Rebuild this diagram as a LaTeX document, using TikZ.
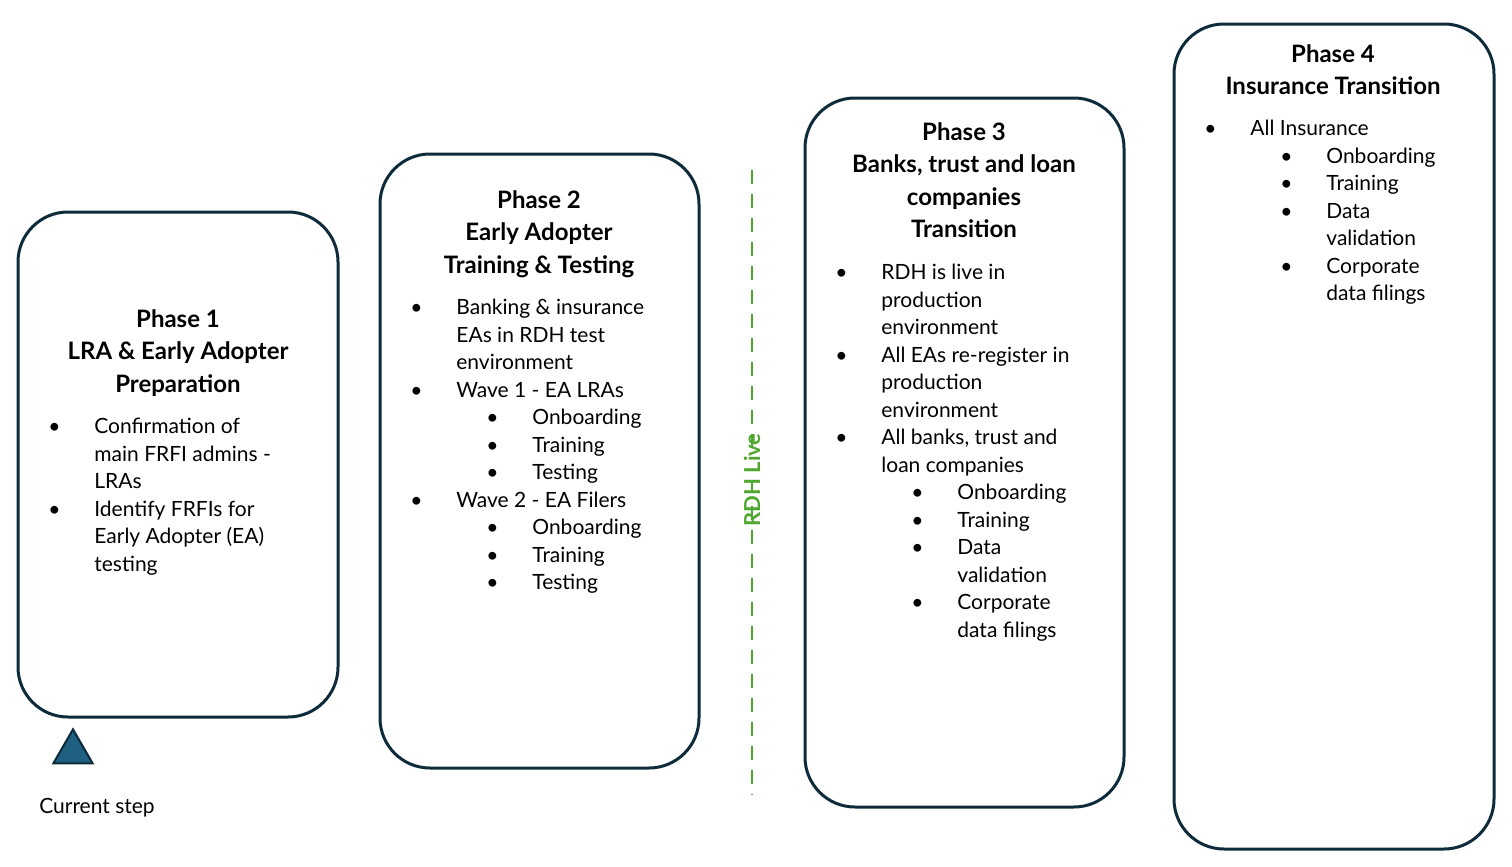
\documentclass[tikz,border=0pt]{standalone}
\usepackage{fontspec}
\setmainfont{Lato}
\usepackage{xcolor}
\usetikzlibrary{positioning,shapes.geometric}
\definecolor{navy}{HTML}{0D2B3A}
\definecolor{rdhgreen}{HTML}{4EA72E}
\definecolor{tri}{HTML}{1F5F80}
\newcommand{\itm}[1]{\makebox[23pt][l]{\textbullet}#1}
\newcommand{\cnt}[1]{\hspace{23pt}#1}
\newcommand{\subitm}[1]{\hspace{38pt}\makebox[23pt][l]{\textbullet}#1}
\newcommand{\subcnt}[1]{\hspace{61pt}#1}
\begin{document}
\begin{tikzpicture}[x=0.5pt,y=-0.5pt,
    phase/.style={draw=navy,line width=1.5pt,rounded corners=25pt},
    title/.style={align=center,font={\fontsize{12}{16.25}\selectfont\bfseries},inner sep=0pt,anchor=north},
    body/.style={align=left,font={\fontsize{10.5}{13.75}\selectfont},inner sep=0pt,anchor=north west}]
        \useasboundingbox (0,0) rectangle (1512,867);
        % Draw phase boxes
        \draw[phase] (18,212) rectangle (338,717);
        \draw[phase] (380,154) rectangle (699,768);
        \draw[phase] (805,98) rectangle (1124,807);
        \draw[phase] (1174,24) rectangle (1494,849);
        % Phase 1
        \node[title] (p1title) at (178,309) {Phase 1\\LRA \& Early Adopter\\Preparation};
        \node[body] (p1body) at (48,418) {\itm{Confirmation of}\\\cnt{main FRFI admins -}\\\cnt{LRAs}\\
            \itm{Identify FRFIs for}\\\cnt{Early Adopter (EA)}\\\cnt{testing}};
        % Phase 2
        \node[title] (p2title) at (539,190) {Phase 2\\Early Adopter\\Training \& Testing};
        \node[body] (p2body) at (410,299) {\itm{Banking \& insurance}\\\cnt{EAs in RDH test}\\\cnt{environment}\\
            \itm{Wave 1 - EA LRAs}\\\subitm{Onboarding}\\\subitm{Training}\\\subitm{Testing}\\
            \itm{Wave 2 - EA Filers}\\\subitm{Onboarding}\\\subitm{Training}\\\subitm{Testing}};
        % Phase 3
        \node[title] (p3title) at (964,122) {Phase 3\\Banks, trust and loan\\companies\\Transition};
        \node[body] (p3body) at (835,264) {\itm{RDH is live in}\\\cnt{production}\\\cnt{environment}\\
            \itm{All EAs re-register in}\\\cnt{production}\\\cnt{environment}\\
            \itm{All banks, trust and}\\\cnt{loan companies}\\\subitm{Onboarding}\\\subitm{Training}\\
            \subitm{Data}\\\subcnt{validation}\\\subitm{Corporate}\\\subcnt{data filings}};
        % Phase 4
        \node[title] (p4title) at (1333,44) {Phase 4\\Insurance Transition};
        \node[body] (p4body) at (1204,120) {\itm{All Insurance}\\\subitm{Onboarding}\\\subitm{Training}\\
            \subitm{Data}\\\subcnt{validation}\\\subitm{Corporate}\\\subcnt{data filings}};
        % RDH live marker
        \node[rotate=90,text=rdhgreen,font={\fontsize{11}{13}\selectfont\bfseries}] (live) at (752,480) {RDH Live};
        \coordinate (livetop) at (752,170);
        \coordinate (livebot) at (752,795);
        \draw[rdhgreen,line width=1.2pt,dash pattern=on 7pt off 5pt] (livetop) -- ([yshift=-14pt]live.east);
        \draw[rdhgreen,line width=1.2pt,dash pattern=on 7pt off 5pt] ([yshift=14pt]live.west) -- (livebot);
        % Current step
        \node[isosceles triangle,isosceles triangle apex angle=60,shape border rotate=90,fill=tri,draw=navy,line width=1pt,minimum height=17pt,inner sep=0pt] (marker) at (73,752) {};
        \node[font={\fontsize{10.5}{13}\selectfont}] (current) at (97,808) {Current step};
    \end{tikzpicture}
\end{document}
